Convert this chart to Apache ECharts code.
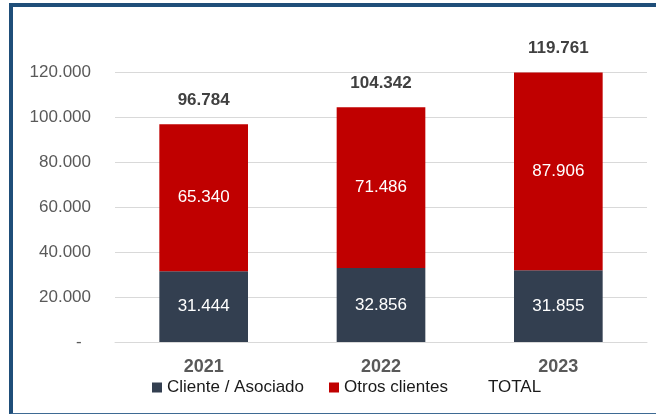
<!DOCTYPE html>
<html>
<head>
<meta charset="utf-8">
<script src="https://cdn.jsdelivr.net/npm/echarts@6/dist/echarts.min.js"></script>
<style>
  html, body { margin: 0; padding: 0; background: #fff; }
  #main { position: absolute; left: 0; top: 0; width: 656px; height: 415px; }
  .frame {
    position: absolute; left: 9px; top: 3px; width: 700px; height: 406px;
    border-left: 4px solid #1F4E79; border-top: 4px solid #1F4E79;
    border-bottom: 1px solid #3E6A93; pointer-events: none;
  }
</style>
</head>
<body>
<div id="main"></div>
<div class="frame"></div>
<script>
  // values
  const years = ["2021", "2022", "2023"];
  const cliente = [31444, 32856, 31855];
  const otros = [65340, 71486, 87906];
  const total = [96784, 104342, 119761];

  const font = "Liberation Sans";
  const fmt = (v) => String(v).replace(/\B(?=(\d{3})+(?!\d))/g, ".");

  var myChart = echarts.init(document.getElementById("main"));

  const innerLabel = {
    show: true,
    position: "inside",
    color: "#fff",
    fontFamily: font,
    fontSize: 17,
    formatter: (p) => fmt(p.value),
  };

  var option = {
    backgroundColor: "#fff",
    animation: false,
    grid: { left: 115, right: 9, top: 72, bottom: 73 },
    legend: {
      top: 374,
      left: 147,
      itemWidth: 10,
      itemHeight: 10,
      itemGap: 25,
      textStyle: { fontFamily: font, fontSize: 17, color: "#1a1a1a" },
      data: [
        { name: "Cliente / Asociado", icon: "rect" },
        { name: "Otros clientes", icon: "rect" },
        { name: "TOTAL", icon: "rect", itemStyle: { opacity: 0 }, lineStyle: { opacity: 0 } },
      ],
    },
    xAxis: {
      type: "category",
      data: years,
      axisTick: { show: false },
      axisLine: { lineStyle: { color: "#D9D9D9", width: 1 } },
      axisLabel: {
        margin: 16,
        fontFamily: font,
        fontSize: 18,
        fontWeight: "bold",
        color: "#595959",
      },
    },
    yAxis: {
      type: "value",
      min: 0,
      max: 120000,
      interval: 20000,
      axisLine: { show: false },
      axisTick: { show: false },
      splitLine: { lineStyle: { color: "#D9D9D9", width: 1 } },
      axisLabel: {
        margin: 24,
        fontFamily: font,
        fontSize: 17,
        color: "#595959",
        formatter: (v) => (v === 0 ? "-  " : fmt(v)),
      },
    },
    series: [
      {
        name: "Cliente / Asociado",
        type: "bar",
        stack: "t",
        barWidth: "50%",
        data: cliente,
        itemStyle: { color: "#333F50" },
        label: innerLabel,
      },
      {
        name: "Otros clientes",
        type: "bar",
        stack: "t",
        barWidth: "50%",
        data: otros,
        itemStyle: { color: "#C00000" },
        label: innerLabel,
      },
      {
        name: "TOTAL",
        type: "line",
        data: total,
        symbol: "circle",
        symbolSize: 1,
        itemStyle: { color: "rgba(0,0,0,0)" },
        lineStyle: { opacity: 0 },
        label: {
          show: true,
          position: "top",
          distance: 15,
          fontFamily: font,
          fontSize: 17,
          fontWeight: "bold",
          color: "#404040",
          formatter: (p) => fmt(p.value),
        },
      },
    ],
  };

  option && myChart.setOption(option);
</script>
</body>
</html>
